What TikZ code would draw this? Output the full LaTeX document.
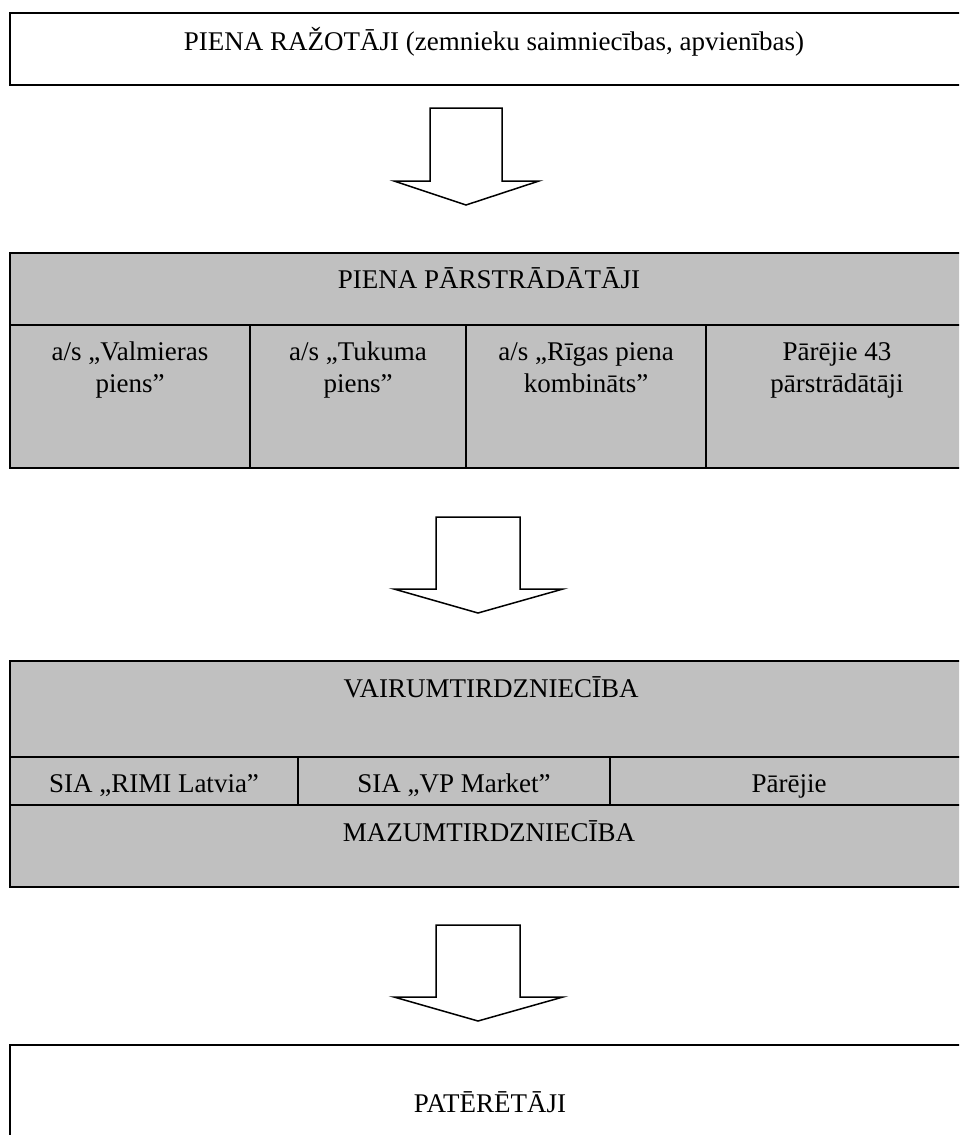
\documentclass[tikz,border=0pt]{standalone}
\usepackage{fontspec}
\setmainfont{Liberation Serif}
\definecolor{boxgray}{HTML}{C0C0C0}
\begin{document}
\begin{tikzpicture}[x=1pt,y=-1pt,
  frame/.style={draw=black,line width=2pt},
  grid/.style={draw=black,line width=1.8pt},
  txt/.style={font=\fontsize{27}{32}\selectfont,inner sep=0pt,anchor=base,align=center},
  blockarrow/.style={draw=black,fill=white,line width=1.5pt,line join=miter}]
\useasboundingbox (0,0) rectangle (959,1135);
\begin{scope}
\clip (0,0) rectangle (959,1135);
% producers
\draw[frame] (10,12.7) rectangle (975,84.7);
% processors
\filldraw[frame,fill=boxgray] (10,253) rectangle (975,468);
\draw[grid] (10,325) -- (975,325);
\draw[grid] (250,325) -- (250,468);
\draw[grid] (466,325) -- (466,468);
\draw[grid] (706,325) -- (706,468);
% trade
\filldraw[frame,fill=boxgray] (10,661) rectangle (975,887);
\draw[grid] (10,757) -- (975,757);
\draw[grid] (10,805) -- (975,805);
\draw[grid] (298,757) -- (298,805);
\draw[grid] (610,757) -- (610,805);
% consumers
\draw[frame] (10,1045) rectangle (975,1160);
\end{scope}
% block arrows
\draw[blockarrow] (430,108) -- (502,108) -- (502,181) -- (539,181) -- (466,205) -- (394,181) -- (430,181) -- cycle;
\draw[blockarrow] (436,517) -- (520,517) -- (520,589) -- (563,589) -- (478,613) -- (394,589) -- (436,589) -- cycle;
\draw[blockarrow] (436,925) -- (520,925) -- (520,997) -- (563,997) -- (478,1021) -- (394,997) -- (436,997) -- cycle;
% texts
\node[txt] (prod) at (494,50) {PIENA RAŽOTĀJI (zemnieku saimniecības, apvienības)};
\node[txt] (proc) at (489,288) {PIENA PĀRSTRĀDĀTĀJI};
\node[txt] (c1) at (130,392) {a/s „Valmieras\\piens”};
\node[txt] (c2) at (358,392) {a/s „Tukuma\\piens”};
\node[txt] (c3) at (586,392) {a/s „Rīgas piena\\kombināts”};
\node[txt] (c4) at (837,392) {Pārējie 43\\pārstrādātāji};
\node[txt] (whole) at (491,697) {VAIRUMTIRDZNIECĪBA};
\node[txt] (s1) at (154,792) {SIA „RIMI Latvia”};
\node[txt] (s2) at (454,792) {SIA „VP Market”};
\node[txt] (s3) at (789,792) {Pārējie};
\node[txt] (retail) at (489,841) {MAZUMTIRDZNIECĪBA};
\node[txt] (cons) at (490,1112) {PATĒRĒTĀJI};
\end{tikzpicture}
\end{document}
